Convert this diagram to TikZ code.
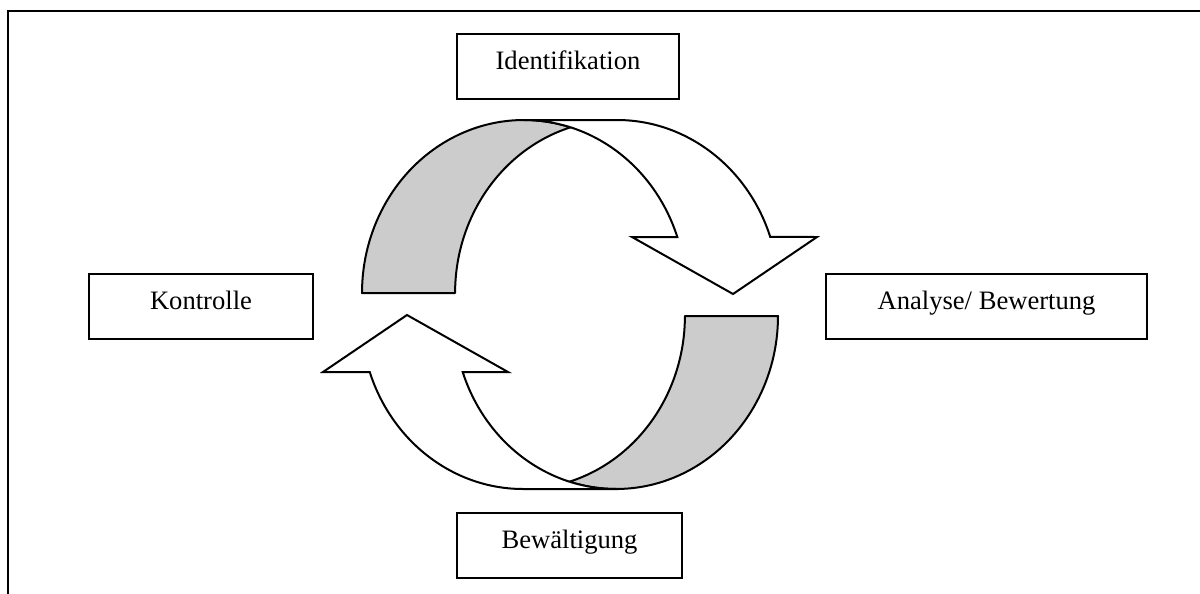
\documentclass[tikz,border=0pt]{standalone}
\usepackage{fontspec}
\setmainfont{Liberation Serif}
\definecolor{shade}{HTML}{CCCCCC}
\begin{document}
\begin{tikzpicture}[x=0.5pt,y=0.5pt,
  labelbox/.style={draw=black,line width=1.2pt,fill=white,inner sep=0pt,
    text height=17.5pt,text depth=15pt,anchor=north,
    font=\fontsize{13.3pt}{16pt}\selectfont},
  bandback/.style={draw=black,line width=1pt,fill=shade,line join=round},
  bandfront/.style={draw=black,line width=1pt,fill=white,line join=miter},
  frameline/.style={draw=black,line width=1.3pt}]
\useasboundingbox (0,0) rectangle (1200,-594);
% outer frame (cut off at right and bottom)
\coordinate (fbl) at (8,-600);
\coordinate (ftl) at (8,-11);
\coordinate (ftr) at (1205,-11);
\draw[frameline] (fbl) -- (ftl) -- (ftr);

% curved arrow (top) and its rotated copy (bottom)
\foreach \rot in {0,180}{
\begin{scope}[rotate around={\rot:(570,-304.5)}]
  \path[bandback] (362,-293)
     arc[start angle=180,end angle=73.3,x radius=162,y radius=173]
     arc[start angle=106.7,end angle=180,x radius=162,y radius=173] -- cycle;
  \path[bandfront] (524,-120) -- (617,-120)
     arc[start angle=90,end angle=18.9,x radius=162,y radius=173]
     -- (817,-237) -- (733,-294) -- (632,-237) -- (677.3,-237)
     arc[start angle=18.9,end angle=90,x radius=162,y radius=173] -- cycle;
\end{scope}}

% boxes
\node[labelbox,minimum width=111pt] (ident) at (568,-33) {Identifikation};
\node[labelbox,minimum width=160.5pt] (analyse) at (986.5,-273) {Analyse/ Bewertung};
\node[labelbox,minimum width=112pt] (kontrolle) at (201,-273) {Kontrolle};
\node[labelbox,minimum width=112.5pt] (bewaelt) at (569.5,-512) {Bewältigung};
\end{tikzpicture}
\end{document}
